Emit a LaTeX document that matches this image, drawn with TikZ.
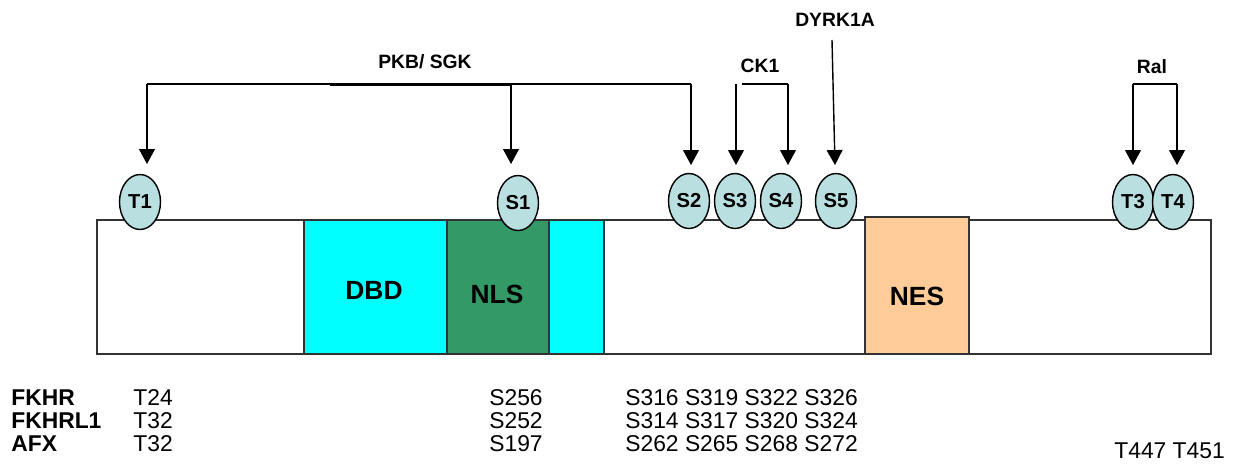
\documentclass[tikz,border=0pt]{standalone}
\usepackage{fontspec}
\setmainfont{Liberation Sans}
\usetikzlibrary{arrows.meta,shapes.geometric}
\definecolor{sitefill}{HTML}{B9DFE0}
\definecolor{dbdcyan}{HTML}{00FFFF}
\definecolor{nlsgreen}{HTML}{339966}
\definecolor{nespeach}{HTML}{FFCC99}
\definecolor{edge}{HTML}{333333}
\tikzset{
  sitebox/.style={ellipse,draw=black,line width=0.8pt,fill=sitefill,minimum width=0.82cm,minimum height=1.1cm,inner sep=0pt,font=\fontsize{11.5}{12}\selectfont\bfseries},
  dombox/.style={draw=edge,line width=0.9pt,anchor=north west,inner sep=0pt},
  domlab/.style={font=\fontsize{15}{17}\selectfont\bfseries},
  kin/.style={font=\fontsize{11}{13}\selectfont\bfseries},
  arr/.style={line width=0.8pt,-{Triangle[width=9pt,length=8.5pt]}},
  ln/.style={line width=0.8pt},
  tbl/.style={anchor=base west,inner sep=0pt,font=\fontsize{13}{15}\selectfont},
  tblb/.style={anchor=base west,inner sep=0pt,font=\fontsize{13}{15}\selectfont\bfseries},
}
\begin{document}
\begin{tikzpicture}[x=0.02cm,y=-0.02cm]
\useasboundingbox (0,0) rectangle (1235,464);
% main protein bar
\node[dombox,minimum width=1114*0.02cm,minimum height=134*0.02cm,fill=white] (bar) at (96,219) {};
\node[dombox,fill=dbdcyan,minimum width=300*0.02cm,minimum height=134*0.02cm] (dbd) at (303,219) {};
\node[dombox,fill=nlsgreen,minimum width=102*0.02cm,minimum height=134*0.02cm] (nls) at (446,219) {};
\node[dombox,fill=nespeach,minimum width=104*0.02cm,minimum height=137*0.02cm] (nes) at (864,216) {};
\node[domlab] (dbdlab) at (374,290) {DBD};
\node[domlab] (nlslab) at (497,294) {NLS};
\node[domlab] (neslab) at (917,296) {NES};
% sites
\node[sitebox] (T1) at (140,202) {T1};
\node[sitebox] (S1) at (518,203) {S1};
\node[sitebox] (S2) at (689,201) {S2};
\node[sitebox] (S3) at (735,201) {S3};
\node[sitebox] (S4) at (781,201) {S4};
\node[sitebox] (S5) at (836,201) {S5};
\node[sitebox] (T3) at (1133,202) {T3};
\node[sitebox] (T4) at (1173,202) {T4};
% kinase labels
\node[kin] (pkb) at (425,62) {PKB/ SGK};
\node[kin] (ck1) at (760,66) {CK1};
\node[kin] (dyrk) at (835,20) {DYRK1A};
\node[kin] (ral) at (1152,67) {Ral};
% PKB/SGK
\coordinate (p1) at (147,84);
\coordinate (p2) at (511,84);
\coordinate (p3) at (691,84);
\coordinate (pb1) at (330,85);
\draw[ln] (p1) -- (p3);
\draw[line width=1.6pt] (pb1) -- (pb1 -| p2);
\draw[arr] (p1) -- ++(0,80);
\draw[arr] (p2) -- ++(0,80);
\draw[arr] (p3) -- ++(0,81);
% CK1
\coordinate (c1) at (736,84);
\coordinate (c2) at (788,84);
\coordinate (c1b) at (742,84);
\draw[ln] (c1b) -- (c2);
\draw[arr] (c1) -- ++(0,81);
\draw[arr] (c2) -- ++(0,81);
% DYRK1A
\coordinate (d1) at (832,40);
\coordinate (d2) at (835,165);
\draw[arr] (d1) -- (d2);
% Ral
\coordinate (r1) at (1133,84);
\coordinate (r2) at (1177,84);
\draw[ln] (r1) -- (r2);
\draw[arr] (r1) -- ++(0,81);
\draw[arr] (r2) -- ++(0,81);
% table
\node[tblb] (n1) at (11,405) {FKHR};
\node[tblb] (n2) at (11,428) {FKHRL1};
\node[tblb] (n3) at (11,451) {AFX};
\node[tbl] (a1) at (133,405) {T24};
\node[tbl] (a2) at (133,428) {T32};
\node[tbl] (a3) at (133,451) {T32};
\node[tbl] (b1) at (489,405) {S256};
\node[tbl] (b2) at (489,428) {S252};
\node[tbl] (b3) at (489,451) {S197};
\node[tbl] (c1t) at (625,405) {S316 S319 S322 S326};
\node[tbl] (c2t) at (625,428) {S314 S317 S320 S324};
\node[tbl] (c3t) at (625,451) {S262 S265 S268 S272};
\node[tbl] (d3t) at (1114,458) {T447 T451};
\end{tikzpicture}
\end{document}
